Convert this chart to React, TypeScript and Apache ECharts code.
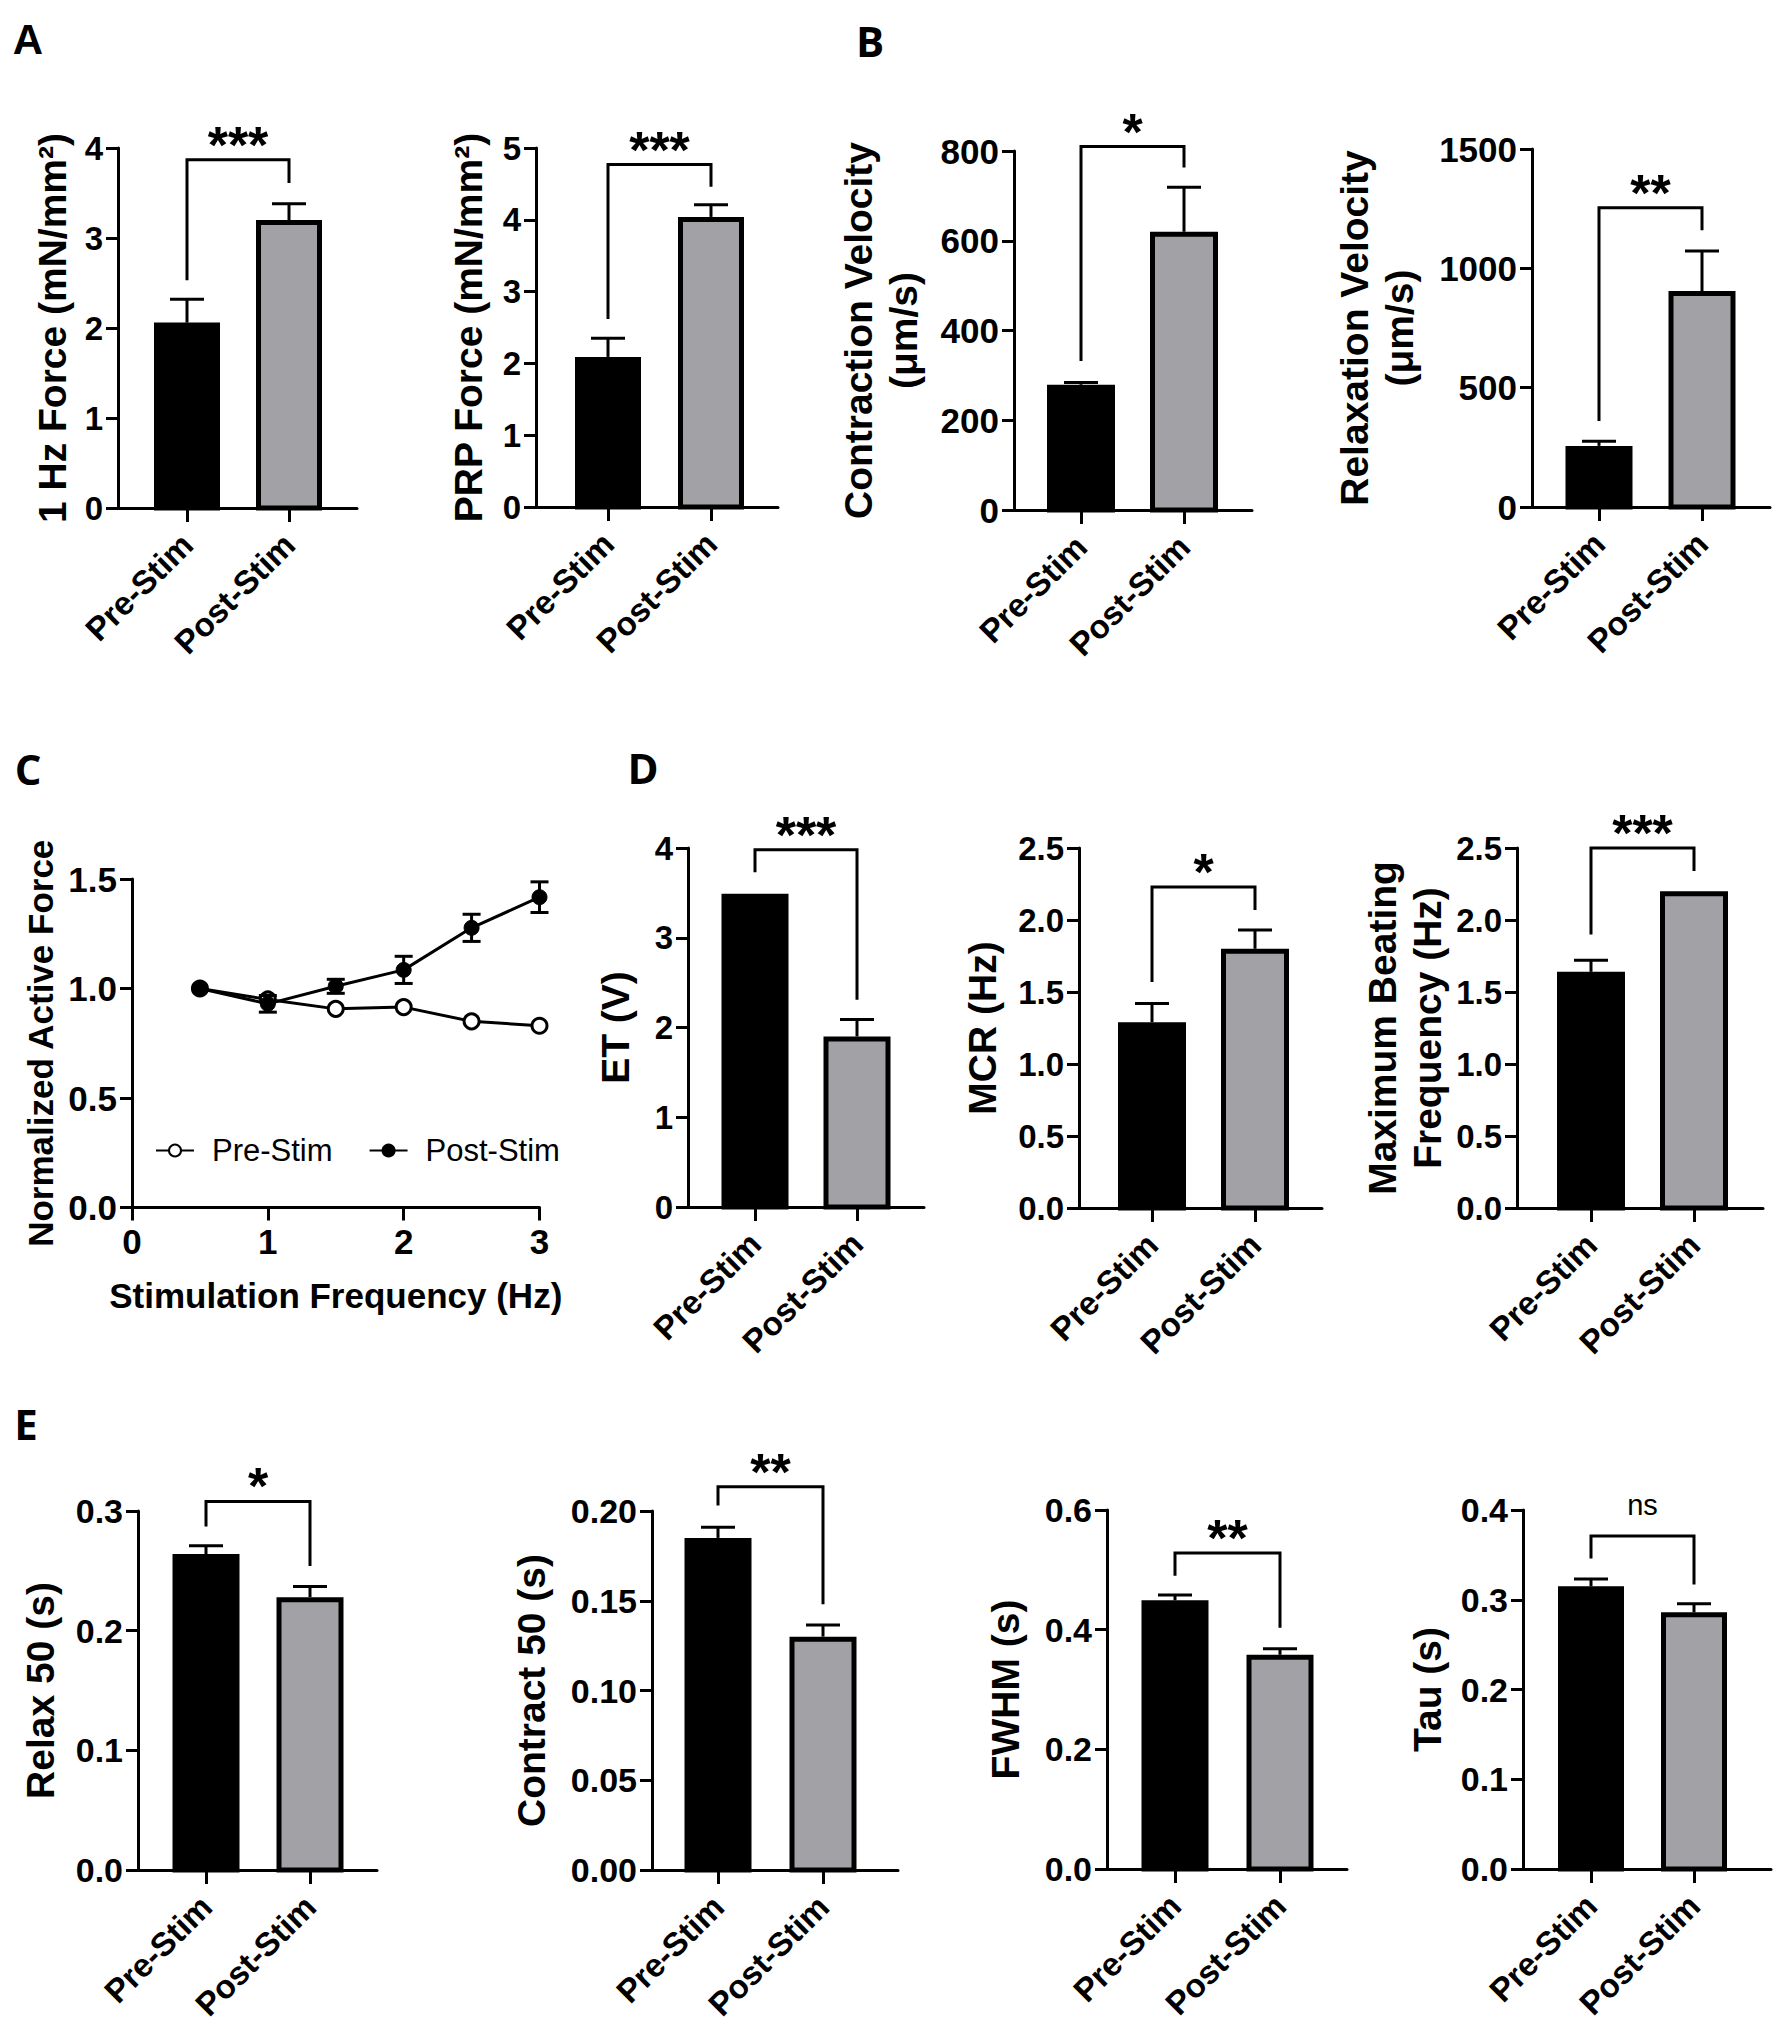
import React, { useEffect, useRef } from 'react';
import * as echarts from 'echarts';

// ---------- data ----------
const categories = ['Pre-Stim', 'Post-Stim'];

// Panel A
const force1HzMean = [2.06, 3.2];
const force1HzSem = [0.26, 0.18];
const force1HzBracket = [3.87, 2.53, 3.61];
const prpForceMean = [2.09, 4.04];
const prpForceSem = [0.26, 0.17];
const prpForceBracket = [4.77, 2.62, 4.46];

// Panel B
const contractionVelMean = [279, 620];
const contractionVelSem = [5, 99];
const contractionVelBracket = [810, 332, 763];
const relaxationVelMean = [256, 905];
const relaxationVelSem = [20, 168];
const relaxationVelBracket = [1254, 360, 1160];

// Panel C
const freqHz = [0.5, 1, 1.5, 2, 2.5, 3];
const preStimForce = [1.0, 0.95, 0.907, 0.915, 0.85, 0.83];
const postStimForce = [1.0, 0.93, 1.01, 1.085, 1.277, 1.417];
const postStimSem = [0, 0.038, 0.032, 0.062, 0.062, 0.07];

// Panel D
const etMean = [3.49, 1.9];
const etSem = [0, 0.19];
const etBracket = [3.98, 3.73, 2.31];
const mcrMean = [1.29, 1.8];
const mcrSem = [0.13, 0.13];
const mcrBracket = [2.23, 1.57, 2.07];
const mbfMean = [1.64, 2.2];
const mbfSem = [0.08, 0];
const mbfBracket = [2.5, 1.9, 2.34];

// Panel E
const relax50Mean = [0.264, 0.228];
const relax50Sem = [0.007, 0.009];
const relax50Bracket = [0.308, 0.287, 0.254];
const contract50Mean = [0.185, 0.13];
const contract50Sem = [0.006, 0.0065];
const contract50Bracket = [0.2135, 0.203, 0.148];
const fwhmMean = [0.449, 0.358];
const fwhmSem = [0.009, 0.01];
const fwhmBracket = [0.528, 0.49, 0.403];
const tauMean = [0.315, 0.286];
const tauSem = [0.008, 0.0095];
const tauBracket = [0.371, 0.346, 0.317];

// ---------- styles / layout ----------
const FONT = "'Liberation Sans', Arial, Helvetica, sans-serif";
const LETTER_FONT = "'Open Sans', 'Liberation Sans', sans-serif";
const GRAY = '#a2a2a6';
const BLACK = '#000';

type BarPanel = {
  title: string;
  mean: number[];
  sem: number[];
  bracket: number[];
  sig: string;
  yMax: number;
  yInterval: number;
  decimals: number;
  x0: number;
  x1: number;
  top: number;
  bottom: number;
  c0: number;
  c1: number;
  barW: number;
  nameGap: number;
  tickFont: number;
};

const barPanels: BarPanel[] = [
  { title: '1 Hz Force (mN/mm²)', mean: force1HzMean, sem: force1HzSem, bracket: force1HzBracket, sig: '***', yMax: 4, yInterval: 1, decimals: 0, x0: 118, x1: 357, top: 148, bottom: 508, c0: 187, c1: 289, barW: 66, nameGap: 43, tickFont: 33 },
  { title: 'PRP Force (mN/mm²)', mean: prpForceMean, sem: prpForceSem, bracket: prpForceBracket, sig: '***', yMax: 5, yInterval: 1, decimals: 0, x0: 536, x1: 778, top: 148, bottom: 507, c0: 608, c1: 711, barW: 66, nameGap: 45, tickFont: 33 },
  { title: 'Contraction Velocity\n(μm/s)', mean: contractionVelMean, sem: contractionVelSem, bracket: contractionVelBracket, sig: '*', yMax: 800, yInterval: 200, decimals: 0, x0: 1014, x1: 1252, top: 151, bottom: 510, c0: 1081, c1: 1184, barW: 68, nameGap: 88, tickFont: 35 },
  { title: 'Relaxation Velocity\n(μm/s)', mean: relaxationVelMean, sem: relaxationVelSem, bracket: relaxationVelBracket, sig: '**', yMax: 1500, yInterval: 500, decimals: 0, x0: 1532, x1: 1770, top: 149, bottom: 507, c0: 1599, c1: 1702, barW: 67, nameGap: 110, tickFont: 35 },
  { title: 'ET (V)', mean: etMean, sem: etSem, bracket: etBracket, sig: '***', yMax: 4, yInterval: 1, decimals: 0, x0: 688, x1: 924, top: 848, bottom: 1207, c0: 755, c1: 857, barW: 67, nameGap: 50, tickFont: 33 },
  { title: 'MCR (Hz)', mean: mcrMean, sem: mcrSem, bracket: mcrBracket, sig: '*', yMax: 2.5, yInterval: 0.5, decimals: 1, x0: 1079, x1: 1322, top: 848, bottom: 1208, c0: 1152, c1: 1255, barW: 68, nameGap: 74, tickFont: 33 },
  { title: 'Maximum Beating\nFrequency (Hz)', mean: mbfMean, sem: mbfSem, bracket: mbfBracket, sig: '***', yMax: 2.5, yInterval: 0.5, decimals: 1, x0: 1517, x1: 1763, top: 848, bottom: 1208, c0: 1591, c1: 1694, barW: 68, nameGap: 67, tickFont: 33 },
  { title: 'Relax 50 (s)', mean: relax50Mean, sem: relax50Sem, bracket: relax50Bracket, sig: '*', yMax: 0.3, yInterval: 0.1, decimals: 1, x0: 138, x1: 377, top: 1511, bottom: 1870, c0: 206, c1: 310, barW: 67, nameGap: 75, tickFont: 34 },
  { title: 'Contract 50 (s)', mean: contract50Mean, sem: contract50Sem, bracket: contract50Bracket, sig: '**', yMax: 0.2, yInterval: 0.05, decimals: 2, x0: 652, x1: 898, top: 1511, bottom: 1870, c0: 718, c1: 823, barW: 67, nameGap: 98, tickFont: 34 },
  { title: 'FWHM (s)', mean: fwhmMean, sem: fwhmSem, bracket: fwhmBracket, sig: '**', yMax: 0.6, yInterval: 0.2, decimals: 1, x0: 1107, x1: 1347, top: 1510, bottom: 1869, c0: 1175, c1: 1280, barW: 67, nameGap: 79, tickFont: 34 },
  { title: 'Tau (s)', mean: tauMean, sem: tauSem, bracket: tauBracket, sig: 'ns', yMax: 0.4, yInterval: 0.1, decimals: 1, x0: 1523, x1: 1771, top: 1510, bottom: 1869, c0: 1591, c1: 1694, barW: 66, nameGap: 73, tickFont: 34 },
];

const letters = [
  { t: 'A', x: 28, y: 39, font: FONT },
  { t: 'B', x: 870, y: 40, font: LETTER_FONT },
  { t: 'C', x: 28, y: 768, font: LETTER_FONT },
  { t: 'D', x: 643, y: 767, font: LETTER_FONT },
  { t: 'E', x: 26, y: 1423, font: LETTER_FONT },
];

function buildOption() {
  const grid: any[] = [];
  const xAxis: any[] = [];
  const yAxis: any[] = [];
  const series: any[] = [];

  const axisLineStyle = { color: BLACK, width: 3 };

  barPanels.forEach((p, i) => {
    const unit = p.c1 - p.c0;
    grid.push({ left: p.x0, top: p.top, width: p.x1 - p.x0, height: p.bottom - p.top });
    xAxis.push({
      gridIndex: i,
      type: 'value',
      min: -(p.c0 - p.x0) / unit,
      max: 1 + (p.x1 - p.c1) / unit,
      axisLine: { show: true, onZero: false, lineStyle: axisLineStyle },
      axisTick: { show: true, customValues: [0, 1], length: 14, lineStyle: axisLineStyle },
      axisLabel: {
        show: true,
        customValues: [0, 1],
        formatter: (v: number) => categories[Math.round(v)],
        rotate: 45,
        margin: 31,
        fontSize: 33,
        fontWeight: 'bold',
        fontFamily: FONT,
        color: BLACK,
      },
      splitLine: { show: false },
    });
    yAxis.push({
      gridIndex: i,
      type: 'value',
      min: 0,
      max: p.yMax,
      interval: p.yInterval,
      axisLine: { show: true, onZero: false, lineStyle: axisLineStyle },
      axisTick: { show: true, length: 12, lineStyle: axisLineStyle },
      axisLabel: {
        formatter: (v: number) => v.toFixed(p.decimals),
        margin: 15,
        fontSize: p.tickFont,
        fontWeight: 'bold',
        fontFamily: FONT,
        color: BLACK,
      },
      splitLine: { show: false },
      name: p.title,
      nameLocation: 'middle',
      nameRotate: 90,
      nameGap: p.nameGap,
      nameTextStyle: { fontSize: 39, fontWeight: 'bold', fontFamily: FONT, color: BLACK, lineHeight: 45, align: 'center' },
    });

    // bars
    series.push({
      type: 'custom',
      xAxisIndex: i,
      yAxisIndex: i,
      clip: false,
      data: p.mean.map((m, k) => [k, m]),
      renderItem: (params: any, api: any) => {
        const k = api.value(0);
        const v = api.value(1);
        const top = api.coord([k, v]);
        const base = api.coord([k, 0]);
        const bw = 5;
        return {
          type: 'rect',
          shape: {
            x: top[0] - p.barW / 2 + bw / 2,
            y: top[1] + bw / 2,
            width: p.barW - bw,
            height: base[1] - top[1] - bw / 2,
          },
          style: { fill: k === 0 ? BLACK : GRAY, stroke: BLACK, lineWidth: bw },
        };
      },
    });

    // error bars (upper only)
    series.push({
      type: 'custom',
      xAxisIndex: i,
      yAxisIndex: i,
      clip: false,
      data: p.mean.map((m, k) => [k, m, m + p.sem[k]]),
      renderItem: (params: any, api: any) => {
        const k = api.value(0);
        const lo = api.value(1);
        const hi = api.value(2);
        if (!(hi > lo)) return null;
        const a = api.coord([k, lo]);
        const b = api.coord([k, hi]);
        const cap = 17;
        const st = { stroke: BLACK, lineWidth: 3 };
        return {
          type: 'group',
          children: [
            { type: 'line', shape: { x1: a[0], y1: a[1], x2: b[0], y2: b[1] }, style: st },
            { type: 'line', shape: { x1: b[0] - cap, y1: b[1], x2: b[0] + cap, y2: b[1] }, style: st },
          ],
        };
      },
    });

    // significance bracket
    series.push({
      type: 'custom',
      xAxisIndex: i,
      yAxisIndex: i,
      clip: false,
      data: [[0.5, p.bracket[0], p.bracket[1], p.bracket[2]]],
      renderItem: (params: any, api: any) => {
        const t = api.value(1);
        const l = api.value(2);
        const r = api.value(3);
        const pL = api.coord([0, l]);
        const pT0 = api.coord([0, t]);
        const pT1 = api.coord([1, t]);
        const pR = api.coord([1, r]);
        const isNs = p.sig === 'ns';
        return {
          type: 'group',
          children: [
            {
              type: 'polyline',
              shape: { points: [pL, pT0, pT1, pR] },
              style: { stroke: BLACK, lineWidth: 3, fill: 'none' },
            },
            {
              type: 'text',
              x: (pT0[0] + pT1[0]) / 2,
              y: isNs ? pT0[1] - 31 : pT0[1] - 15,
              style: {
                text: p.sig,
                fill: BLACK,
                fontSize: isNs ? 29 : 52,
                fontWeight: isNs ? 'normal' : 'bold',
                fontFamily: FONT,
                align: 'center',
                verticalAlign: 'middle',
              },
            },
          ],
        };
      },
    });
  });

  // Panel C
  const ci = barPanels.length;
  grid.push({ left: 132, top: 879, width: 407.5, height: 328.5 });
  xAxis.push({
    gridIndex: ci,
    type: 'value',
    min: 0,
    max: 3,
    interval: 1,
    axisLine: { show: true, onZero: false, lineStyle: axisLineStyle },
    axisTick: { show: true, length: 13, lineStyle: axisLineStyle },
    axisLabel: { margin: 16, fontSize: 35, fontWeight: 'bold', fontFamily: FONT, color: BLACK },
    splitLine: { show: false },
    name: 'Stimulation Frequency (Hz)',
    nameLocation: 'middle',
    nameGap: 68,
    nameTextStyle: { fontSize: 35, fontWeight: 'bold', fontFamily: FONT, color: BLACK, lineHeight: 40 },
  });
  yAxis.push({
    gridIndex: ci,
    type: 'value',
    min: 0,
    max: 1.5,
    interval: 0.5,
    axisLine: { show: true, onZero: false, lineStyle: axisLineStyle },
    axisTick: { show: true, length: 12, lineStyle: axisLineStyle },
    axisLabel: { formatter: (v: number) => v.toFixed(1), margin: 15, fontSize: 35, fontWeight: 'bold', fontFamily: FONT, color: BLACK },
    splitLine: { show: false },
    name: 'Normalized Active Force',
    nameLocation: 'middle',
    nameRotate: 90,
    nameGap: 72,
    nameTextStyle: { fontSize: 35, fontWeight: 'bold', fontFamily: FONT, color: BLACK, lineHeight: 40 },
  });
  series.push({
    type: 'custom',
    xAxisIndex: ci,
    yAxisIndex: ci,
    clip: false,
    z: 3,
    data: freqHz.map((f, k) => [f, postStimForce[k] - postStimSem[k], postStimForce[k] + postStimSem[k]]),
    renderItem: (params: any, api: any) => {
      const f = api.value(0);
      const lo = api.value(1);
      const hi = api.value(2);
      if (!(hi > lo)) return null;
      const a = api.coord([f, lo]);
      const b = api.coord([f, hi]);
      const cap = 9;
      const st = { stroke: BLACK, lineWidth: 3 };
      return {
        type: 'group',
        children: [
          { type: 'line', shape: { x1: a[0], y1: a[1], x2: b[0], y2: b[1] }, style: st },
          { type: 'line', shape: { x1: a[0] - cap, y1: a[1], x2: a[0] + cap, y2: a[1] }, style: st },
          { type: 'line', shape: { x1: b[0] - cap, y1: b[1], x2: b[0] + cap, y2: b[1] }, style: st },
        ],
      };
    },
  });
  series.push({
    name: 'Pre-Stim',
    type: 'line',
    xAxisIndex: ci,
    yAxisIndex: ci,
    z: 2,
    data: freqHz.map((f, k) => [f, preStimForce[k]]),
    symbol: 'circle',
    symbolSize: 15,
    itemStyle: { color: '#ffffff', borderColor: BLACK, borderWidth: 3 },
    lineStyle: { color: BLACK, width: 3 },
  });
  series.push({
    name: 'Post-Stim',
    type: 'line',
    xAxisIndex: ci,
    yAxisIndex: ci,
    z: 4,
    data: freqHz.map((f, k) => [f, postStimForce[k]]),
    symbol: 'circle',
    symbolSize: 15,
    itemStyle: { color: BLACK, borderColor: BLACK, borderWidth: 1 },
    lineStyle: { color: BLACK, width: 3 },
  });

  return {
    animation: false,
    backgroundColor: '#ffffff',
    textStyle: { fontFamily: FONT },
    legend: {
      data: ['Pre-Stim', 'Post-Stim'],
      left: 150,
      top: 1130,
      itemWidth: 38,
      itemHeight: 15,
      itemGap: 36,
      textStyle: { fontSize: 31, fontFamily: FONT, color: BLACK, padding: [0, 0, 0, 13] },
    },
    grid,
    xAxis,
    yAxis,
    series,
    graphic: letters.map((l) => ({
      type: 'text',
      x: l.x,
      y: l.y,
      style: {
        text: l.t,
        fill: BLACK,
        fontSize: 42,
        fontWeight: 'bold',
        fontFamily: l.font,
        align: 'center',
        verticalAlign: 'middle',
      },
    })),
  };
}

export default function App() {
  const ref = useRef<HTMLDivElement>(null);
  useEffect(() => {
    if (!ref.current) return;
    const chart = echarts.init(ref.current, undefined, { renderer: 'svg' });
    chart.setOption(buildOption() as any);
    return () => chart.dispose();
  }, []);
  return (
    <div
      ref={ref}
      style={{ position: 'absolute', left: 0, top: 0, width: 1773, height: 2034, background: '#fff' }}
    />
  );
}
